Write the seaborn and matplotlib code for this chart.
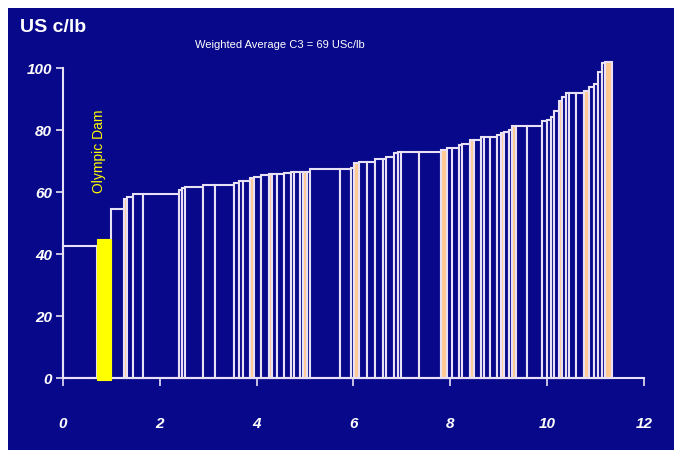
import matplotlib
matplotlib.use('Agg')
import matplotlib.pyplot as plt
import seaborn as sns
import numpy as np
from matplotlib.patches import Rectangle

# production of each mine (x width) and cash cost C3 in US c/lb
production = [0.70, 0.29, 0.27, 0.06, 0.12, 0.21, 0.74, 0.07, 0.07, 0.37,
              0.23, 0.40, 0.10, 0.09, 0.14, 0.08, 0.15, 0.16, 0.07, 0.10,
              0.14, 0.14, 0.07, 0.12, 0.07, 0.08, 0.07, 0.62, 0.21, 0.07,
              0.10, 0.16, 0.17, 0.16, 0.07, 0.17, 0.08, 0.07, 0.36, 0.45,
              0.14, 0.10, 0.14, 0.07, 0.16, 0.07, 0.15, 0.07, 0.12, 0.15,
              0.07, 0.07, 0.10, 0.07, 0.07, 0.24, 0.31, 0.10, 0.07, 0.07,
              0.10, 0.07, 0.07, 0.07, 0.14, 0.17, 0.10, 0.10, 0.10, 0.07,
              0.07, 0.14]
cost = [42.7, 45.0, 54.5, 57.7, 58.5, 59.5, 59.5, 60.5, 61.2, 61.5,
        62.3, 62.3, 62.8, 63.4, 63.7, 64.4, 65.0, 65.5, 65.8, 65.8,
        65.8, 66.0, 66.6, 66.6, 66.6, 66.6, 66.6, 67.3, 67.3, 67.9,
        69.5, 69.8, 69.8, 70.5, 70.5, 71.2, 72.5, 73.0, 73.0, 73.0,
        73.7, 74.1, 74.1, 75.2, 75.5, 76.8, 76.8, 77.6, 77.6, 77.8,
        78.4, 78.9, 79.5, 80.0, 81.3, 81.3, 81.3, 82.8, 83.2, 84.3,
        86.0, 89.2, 90.5, 91.8, 91.8, 91.8, 92.5, 94.0, 94.8, 98.8,
        101.5, 101.8]
olympic_dam = 1
filled = [3, 15, 18, 25, 30, 40, 45, 51, 54, 61, 66, 71]

x_ticks = [0, 2, 4, 6, 8, 10, 12]
y_ticks = [0, 20, 40, 60, 80, 100]

navy = '#08088a'
line = '#e8e0f4'
peach = '#ffc98f'

sns.set_style('white')
plt.rcParams['font.family'] = ['Liberation Sans', 'DejaVu Sans']

fig = plt.figure(figsize=(6.74, 4.5), dpi=100)
fig.patch.set_facecolor('white')
fig.patches.append(Rectangle((8 / 674, 0), 1, 1 - 8 / 450, transform=fig.transFigure,
                             facecolor=navy, edgecolor='none', zorder=-10))
ax = fig.add_axes([63 / 674, 1 - 378 / 450, 581 / 674, 310 / 450])
ax.set_facecolor(navy)

lefts = np.concatenate([[0], np.cumsum(production)[:-1]])
for i, (l, w, c) in enumerate(zip(lefts, production, cost)):
    if i == olympic_dam:
        ax.bar(l, c + 0.8, width=w, bottom=-0.8, align='edge', color='#ffff00',
               edgecolor='#ffff00', linewidth=0.8, clip_on=False, zorder=5)
    else:
        fc = peach if i in filled else navy
        ax.bar(l, c, width=w, align='edge', color=fc, edgecolor=line,
               linewidth=1.5, clip_on=False, zorder=2)

ax.set_xlim(0, 12)
ax.set_ylim(0, 100)
ax.set_xticks(x_ticks)
ax.set_yticks(y_ticks)
ax.set_xticklabels([str(t) for t in x_ticks], fontsize=11, fontweight='bold',
                   fontstyle='italic', color='white')
ax.set_yticklabels([str(t) for t in y_ticks], fontsize=11, fontweight='bold',
                   fontstyle='italic', color='white')
ax.tick_params(axis='x', bottom=True, direction='out', length=6, width=1.2,
               color=line, pad=22)
ax.tick_params(axis='y', left=True, direction='out', length=5, width=1.2,
               color=line, pad=3)
for s in ['top', 'right']:
    ax.spines[s].set_visible(False)
for s in ['left', 'bottom']:
    ax.spines[s].set_color(line)
    ax.spines[s].set_linewidth(1.5)
    ax.spines[s].set_zorder(4)

fig.text(20 / 674, 1 - 28 / 450, 'US c/lb', fontsize=14, fontweight='bold',
         color='white', va='center', ha='left')
fig.text(195 / 674, 1 - 45 / 450, 'Weighted Average C3 = 69 USc/lb', fontsize=8,
         color='white', va='center', ha='left')
ax.text(0.74, 73, 'Olympic Dam', rotation=90, color='#ffff00', fontsize=10,
        ha='center', va='center')

fig.savefig('out.png', dpi=100, facecolor=fig.get_facecolor())
